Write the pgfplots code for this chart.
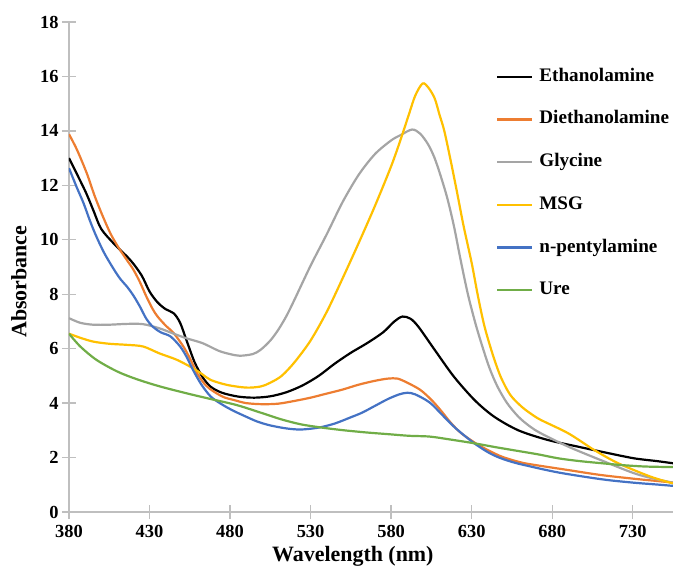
\documentclass[border=0pt]{standalone}
\usepackage{fontspec}
\setmainfont{Liberation Serif}
\usepackage{pgfplots}
\pgfplotsset{compat=1.18}

\definecolor{cEth}{RGB}{0,0,0}
\definecolor{cDie}{HTML}{ED7D31}
\definecolor{cGly}{HTML}{A5A5A5}
\definecolor{cMsg}{HTML}{FFC000}
\definecolor{cPen}{HTML}{4472C4}
\definecolor{cUre}{HTML}{70AD47}
\definecolor{axgray}{HTML}{BFBFBF}

\newcommand{\tickfont}{\bfseries\fontsize{18.5}{20}\selectfont}
\newcommand{\legfont}{\bfseries\fontsize{19.2}{21}\selectfont}
\newcommand{\labfont}{\bfseries\fontsize{22}{24}\selectfont}

\begin{document}
\begin{tikzpicture}
\begin{axis}[
  name=ax,
  width=604bp, height=490bp, scale only axis,
  xmin=380, xmax=755, ymin=0, ymax=18,
  axis x line=bottom, axis y line=left,
  axis line style={axgray, line width=1.6bp, -},
  xtick={380,430,...,730}, ytick={0,2,...,18},
  tick align=center, major tick length=14bp,
  tick style={axgray, line width=1.4bp},
  /pgf/number format/assume math mode=true,
  tick label style={font=\tickfont, text=black},
  xticklabel style={yshift=-3bp},
  xlabel={Wavelength (nm)}, ylabel={Absorbance},
  every axis x label/.style={at={(axis description cs:0.47,-0.102)}, anchor=base, font=\labfont},
  every axis y label/.style={at={(axis description cs:-0.0828,0.47)}, anchor=center, rotate=90, font=\labfont},
  legend cell align=left,
  legend style={at={(axis description cs:0.707,0.906)}, anchor=north west,
    draw=none, fill=none, inner sep=0pt, row sep=25.7bp, column sep=6bp,
    font=\legfont, nodes={inner sep=0pt, text height=13bp, text depth=4bp}},
  legend image code/.code={\draw[#1] (0bp,0bp) -- (35bp,0bp);},
  every axis plot/.append style={line width=2.2bp, smooth, no markers},
]
\addplot[cEth] coordinates {
(380,13.0) (390,11.8) (395,11.1) (400,10.4) (408,9.85) (418,9.26) (425,8.7)
(430,8.1) (435,7.7) (440,7.45) (445,7.3) (449,6.95) (453,6.3) (458,5.5)
(463,4.95) (468,4.6) (475,4.38) (485,4.24) (495,4.2) (505,4.25) (515,4.4)
(525,4.65) (535,5.0) (545,5.45) (555,5.85) (565,6.2) (575,6.6) (582,7.0)
(587,7.18) (592,7.1) (597,6.8) (607,5.96) (619,4.97) (632,4.1) (644,3.5)
(659,3.0) (677,2.65) (696,2.4) (715,2.16) (731,1.97) (745,1.87) (755,1.79)};
\addlegendentry{Ethanolamine}
\addplot[cDie] coordinates {
(380,13.88) (385,13.3) (391,12.45) (396,11.6) (401,10.86) (406,10.2) (411,9.69)
(416,9.25) (420,8.9) (424,8.45) (428,7.92) (432,7.45) (435,7.18) (440,6.85)
(445,6.57) (451,6.08) (455,5.65) (460,5.05) (465,4.65) (470,4.42) (476,4.22)
(482,4.12) (490,4.0) (500,3.96) (510,3.98) (520,4.08) (530,4.2) (540,4.35)
(550,4.5) (560,4.68) (570,4.82) (578,4.9) (584,4.9) (590,4.75) (598,4.49)
(605,4.12) (611,3.72) (617,3.28) (623,2.92) (630,2.62) (636,2.4) (648,2.05)
(660,1.83) (669,1.73) (690,1.54) (710,1.36) (731,1.22) (745,1.14) (755,1.08)};
\addlegendentry{Diethanolamine}
\addplot[cGly] coordinates {
(380,7.12) (387,6.95) (395,6.88) (405,6.88) (416,6.91) (426,6.9) (436,6.75)
(445,6.55) (453,6.38) (463,6.2) (473,5.92) (480,5.8) (486,5.74) (494,5.8)
(499,5.96) (505,6.3) (510,6.7) (515,7.2) (520,7.8) (530,9.05) (540,10.2)
(550,11.4) (560,12.4) (570,13.15) (580,13.65) (586,13.85) (593,14.05) (598,13.9)
(603,13.5) (607,13.0) (611,12.3) (615,11.5) (619,10.5) (623,9.3) (627.5,8.04)
(632,7.0) (636,6.2) (641,5.3) (646,4.61) (652,4.0) (659,3.5) (666,3.15)
(673,2.89) (690,2.4) (710,1.91) (731,1.42) (745,1.2) (755,1.08)};
\addlegendentry{Glycine}
\addplot[cMsg] coordinates {
(380,6.55) (387,6.4) (395,6.26) (405,6.18) (416,6.14) (426,6.08) (436,5.83)
(447,5.59) (457,5.28) (463,5.05) (468,4.85) (478,4.67) (490,4.57) (499,4.61)
(505,4.75) (512,5.0) (520,5.5) (530,6.3) (540,7.35) (550,8.6) (560,9.9)
(570,11.25) (580,12.7) (586,13.7) (591,14.6) (595,15.3) (599.5,15.74) (603,15.6)
(607,15.2) (610,14.6) (613,14.0) (617,12.9) (621,11.72) (625,10.5) (630,9.15)
(634,7.9) (638,6.81) (643,5.8) (648,4.97) (654,4.3) (661,3.87) (667,3.6)
(673,3.38) (690,2.89) (706,2.28) (721,1.79) (741,1.3) (755,1.05)};
\addlegendentry{MSG}
\addplot[cPen] coordinates {
(380,12.63) (385,11.9) (389,11.35) (393,10.7) (397,10.12) (402,9.5) (408,8.9)
(412,8.55) (416,8.28) (420,7.95) (424,7.55) (428,7.1) (432,6.81) (437,6.6)
(443,6.45) (449,6.08) (453,5.7) (457,5.22) (462,4.7) (468,4.24) (475,3.95)
(482,3.72) (490,3.5) (497,3.32) (505,3.18) (515,3.07) (524,3.03) (535,3.1)
(545,3.25) (555,3.48) (562,3.65) (570,3.9) (578,4.15) (585,4.32) (590,4.38)
(595,4.32) (604,4.02) (612,3.55) (620,3.08) (631,2.55) (640,2.2) (647,2.0)
(655,1.84) (663,1.72) (684,1.45) (711,1.2) (730,1.08) (745,1.01) (755,0.96)};
\addlegendentry{n-pentylamine}
\addplot[cUre] coordinates {
(380,6.55) (387,6.08) (397,5.59) (410,5.16) (422,4.88) (436,4.62) (453,4.36)
(468,4.15) (484,3.93) (499,3.65) (512,3.4) (524,3.22) (537,3.1) (551,3.0)
(565,2.92) (578,2.86) (591,2.8) (604,2.77) (617,2.66) (631,2.53) (645,2.38)
(658,2.25) (671,2.12) (684,1.97) (697,1.87) (711,1.79) (724,1.72) (738,1.67)
(755,1.65)};
\addlegendentry{Ure}
\end{axis}
\pgfresetboundingbox
\path ([xshift=-69bp,yshift=-57bp]ax.south west) rectangle ([yshift=22bp]ax.north east);
\end{tikzpicture}
\end{document}
